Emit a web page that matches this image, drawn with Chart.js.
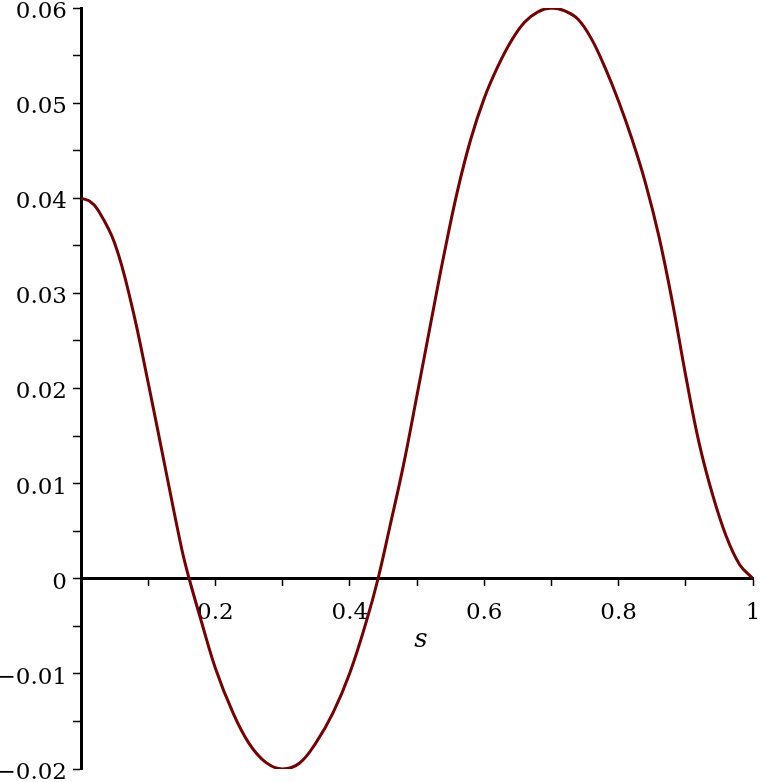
<!DOCTYPE html>
<html>
<head>
<meta charset="utf-8">
<script src="https://cdn.jsdelivr.net/npm/chart.js@4"></script>
<style>
body { margin: 0; background: #fff; }
#wrap { width: 760px; height: 782px; position: relative; }
</style>
</head>
<body>
<div id="wrap"><canvas id="plot"></canvas></div>
<script>
// values
const sVals = [0, 0.0125, 0.025, 0.05, 0.075, 0.10, 0.125, 0.15, 0.161,
  0.18, 0.20, 0.225, 0.25, 0.275, 0.30, 0.325, 0.35, 0.375, 0.40, 0.425, 0.442,
  0.46, 0.48, 0.50, 0.52, 0.54, 0.56, 0.58, 0.60, 0.62, 0.64, 0.66, 0.68, 0.70,
  0.72, 0.74, 0.76, 0.78, 0.80, 0.82, 0.84, 0.86, 0.88, 0.90, 0.92, 0.94, 0.96, 0.98, 1.0];
const yVals = [0.0400, 0.0397, 0.0388, 0.0353, 0.0289, 0.0206, 0.0118, 0.0031, 0.0000,
  -0.0047, -0.0094, -0.0139, -0.0173, -0.0193, -0.0200, -0.0194, -0.0172, -0.0141, -0.0099, -0.0044, 0.0000,
  0.0056, 0.0120, 0.0193, 0.0267, 0.0340, 0.0407, 0.0462, 0.0505, 0.0538, 0.0565, 0.0585, 0.0596, 0.0600,
  0.0597, 0.0588, 0.0567, 0.0537, 0.0502, 0.0462, 0.0416, 0.0360, 0.0291, 0.0213, 0.0142, 0.0088, 0.0045, 0.0015, 0.0000];

const xTickLabels = ['0.2', '0.4', '0.6', '0.8', '1'];
const yTickLabels = ['\u22120.02', '\u22120.01', '0', '0.01', '0.02', '0.03', '0.04', '0.05', '0.06'];
const xAxisTitle = 's';

const points = sVals.map((s, i) => ({ x: s, y: yVals[i] }));

// axis name under the x axis, placed with the scales
const axisName = {
  id: 'axisName',
  afterDraw(chart) {
    const ctx = chart.ctx;
    const xs = chart.scales.x, ys = chart.scales.y;
    ctx.save();
    ctx.font = 'italic 26px "DejaVu Serif"';
    ctx.fillStyle = '#000';
    ctx.textAlign = 'center';
    ctx.textBaseline = 'middle';
    ctx.fillText(xAxisTitle, xs.getPixelForValue(0.506), ys.getPixelForValue(0) + 61);
    ctx.restore();
  }
};

new Chart(document.getElementById('plot'), {
  type: 'scatter',
  data: {
    datasets: [{
      data: points,
      showLine: true,
      borderColor: '#770000',
      borderWidth: 3,
      pointRadius: 0,
      tension: 0.4
    }]
  },
  options: {
    responsive: true,
    maintainAspectRatio: false,
    animation: false,
    layout: { padding: { top: 8, right: 7, bottom: 13, left: 0 } },
    plugins: { legend: { display: false }, tooltip: { enabled: false } },
    scales: {
      x: {
        type: 'linear',
        position: { y: 0 },
        min: 0,
        max: 1,
        afterFit: function(scale) { scale.paddingLeft = 0; scale.paddingRight = 0; },
        border: { color: '#000', width: 3 },
        grid: { drawOnChartArea: false, tickLength: 6, tickColor: '#000', tickWidth: 1.5 },
        ticks: {
          stepSize: 0.1,
          padding: 14,
          color: '#000',
          font: { family: 'DejaVu Serif', size: 23 },
          maxRotation: 0,
          autoSkip: false,
          callback: function(v) {
            const k = Math.round(v * 10);
            if (k > 0 && k % 2 === 0) return xTickLabels[k / 2 - 1];
            return '';
          }
        }
      },
      y: {
        type: 'linear',
        position: 'left',
        min: -0.02,
        max: 0.06,
        afterFit: function(scale) { scale.width = 81; scale.paddingTop = 0; scale.paddingBottom = 0; },
        border: { color: '#000', width: 3 },
        grid: { drawOnChartArea: false, tickLength: 8, tickColor: '#000', tickWidth: 1.5 },
        ticks: {
          stepSize: 0.005,
          padding: 6,
          labelOffset: 4,
          color: '#000',
          font: { family: 'DejaVu Serif', size: 23 },
          autoSkip: false,
          callback: function(v) {
            const k = Math.round(v * 1000);
            if (k % 10 === 0) return yTickLabels[k / 10 + 2];
            return '';
          }
        }
      }
    }
  },
  plugins: [axisName]
});
</script>
</body>
</html>
